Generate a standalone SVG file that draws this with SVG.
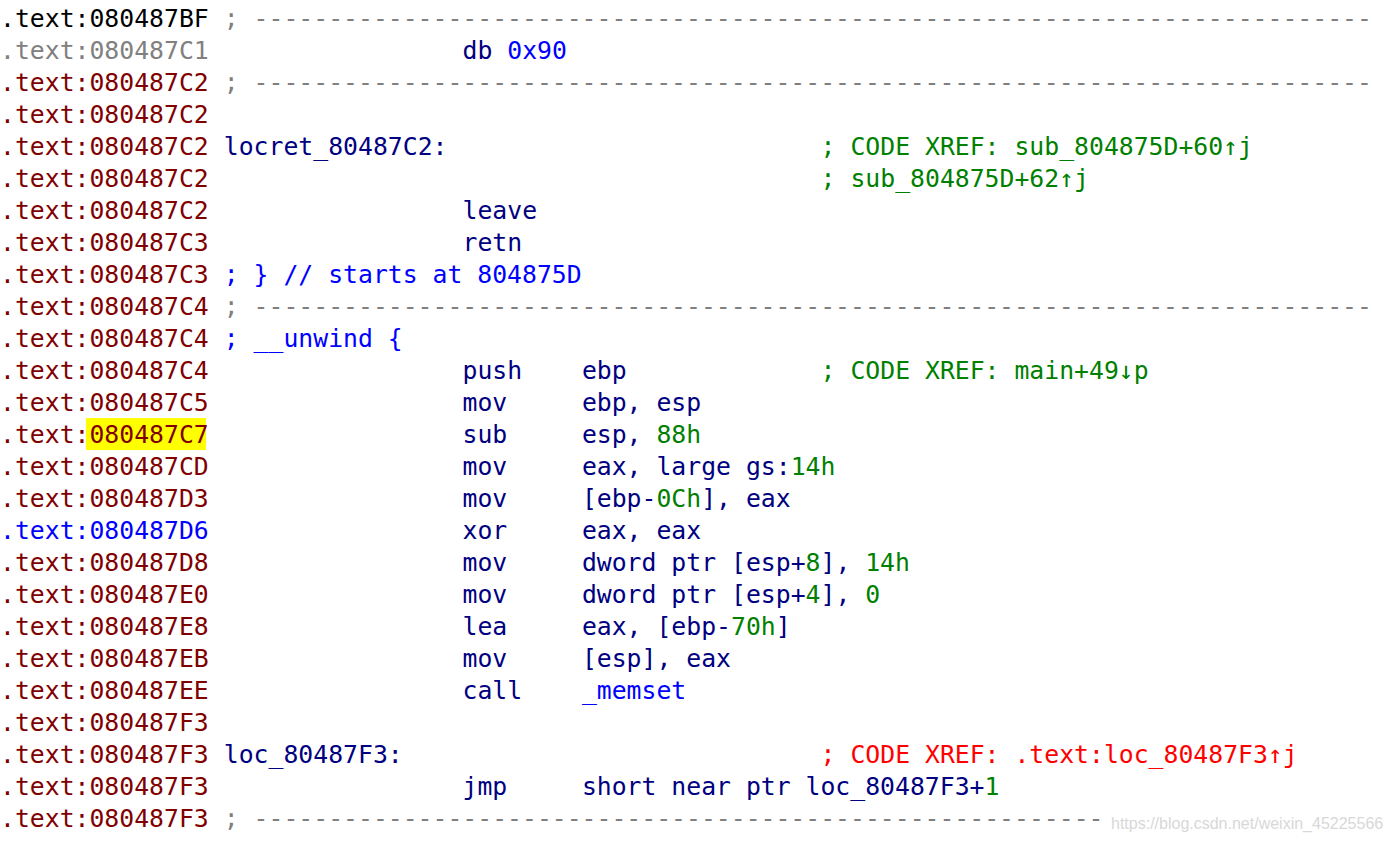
<svg xmlns="http://www.w3.org/2000/svg" width="1392" height="841" viewBox="0 0 1392 841">
<style>
text{font-family:"DejaVu Sans Mono","Liberation Mono",monospace;font-size:24.78px;white-space:pre}
.a{fill:#800000}.k{fill:#000000}.n{fill:#000080}.g{fill:#008000}.b{fill:#0000ff}.gr{fill:#808080}.r{fill:#ff0000}
.wm{font-family:"Liberation Sans",Arial,sans-serif;font-size:16px;fill:#d8d8d8}
</style>
<rect width="1392" height="841" fill="#ffffff"/>
<rect id="highlight" x="86" y="418" width="120" height="32" fill="#ffff00"/>
<g id="listing">
<text y="27"><tspan x="0" class="k">.text:080487BF</tspan><tspan x="223.8" class="gr">;</tspan><tspan x="253.6" class="gr">---------------------------------------------------------------------------</tspan></text>
<text y="59"><tspan x="0" class="gr">.text:080487C1</tspan><tspan x="462.5" class="n">db</tspan><tspan x="507.3" class="b">0x90</tspan></text>
<text y="91"><tspan x="0" class="a">.text:080487C2</tspan><tspan x="223.8" class="gr">;</tspan><tspan x="253.6" class="gr">---------------------------------------------------------------------------</tspan></text>
<text y="123"><tspan x="0" class="a">.text:080487C2</tspan></text>
<text y="155"><tspan x="0" class="a">.text:080487C2</tspan><tspan x="223.8" class="n">locret_80487C2:</tspan><tspan x="820.6" class="g">; CODE XREF: sub_804875D+60↑j</tspan></text>
<text y="187"><tspan x="0" class="a">.text:080487C2</tspan><tspan x="820.6" class="g">; sub_804875D+62↑j</tspan></text>
<text y="219"><tspan x="0" class="a">.text:080487C2</tspan><tspan x="462.5" class="n">leave</tspan></text>
<text y="251"><tspan x="0" class="a">.text:080487C3</tspan><tspan x="462.5" class="n">retn</tspan></text>
<text y="283"><tspan x="0" class="a">.text:080487C3</tspan><tspan x="223.8" class="b">; } // starts at 804875D</tspan></text>
<text y="315"><tspan x="0" class="a">.text:080487C4</tspan><tspan x="223.8" class="gr">;</tspan><tspan x="253.6" class="gr">---------------------------------------------------------------------------</tspan></text>
<text y="347"><tspan x="0" class="a">.text:080487C4</tspan><tspan x="223.8" class="b">; __unwind {</tspan></text>
<text y="379"><tspan x="0" class="a">.text:080487C4</tspan><tspan x="462.5" class="n">push</tspan><tspan x="581.9" class="n">ebp</tspan><tspan x="820.6" class="g">; CODE XREF: main+49↓p</tspan></text>
<text y="411"><tspan x="0" class="a">.text:080487C5</tspan><tspan x="462.5" class="n">mov</tspan><tspan x="581.9" class="n">ebp, esp</tspan></text>
<text y="443"><tspan x="0" class="a">.text:080487C7</tspan><tspan x="462.5" class="n">sub</tspan><tspan x="581.9" class="n">esp, </tspan><tspan class="g">88h</tspan></text>
<text y="475"><tspan x="0" class="a">.text:080487CD</tspan><tspan x="462.5" class="n">mov</tspan><tspan x="581.9" class="n">eax, large gs:</tspan><tspan class="g">14h</tspan></text>
<text y="507"><tspan x="0" class="a">.text:080487D3</tspan><tspan x="462.5" class="n">mov</tspan><tspan x="581.9" class="n">[ebp-</tspan><tspan class="g">0Ch</tspan><tspan class="n">], eax</tspan></text>
<text y="539"><tspan x="0" class="b">.text:080487D6</tspan><tspan x="462.5" class="n">xor</tspan><tspan x="581.9" class="n">eax, eax</tspan></text>
<text y="571"><tspan x="0" class="a">.text:080487D8</tspan><tspan x="462.5" class="n">mov</tspan><tspan x="581.9" class="n">dword ptr [esp+</tspan><tspan class="g">8</tspan><tspan class="n">], </tspan><tspan class="g">14h</tspan></text>
<text y="603"><tspan x="0" class="a">.text:080487E0</tspan><tspan x="462.5" class="n">mov</tspan><tspan x="581.9" class="n">dword ptr [esp+</tspan><tspan class="g">4</tspan><tspan class="n">], </tspan><tspan class="g">0</tspan></text>
<text y="635"><tspan x="0" class="a">.text:080487E8</tspan><tspan x="462.5" class="n">lea</tspan><tspan x="581.9" class="n">eax, [ebp-</tspan><tspan class="g">70h</tspan><tspan class="n">]</tspan></text>
<text y="667"><tspan x="0" class="a">.text:080487EB</tspan><tspan x="462.5" class="n">mov</tspan><tspan x="581.9" class="n">[esp], eax</tspan></text>
<text y="699"><tspan x="0" class="a">.text:080487EE</tspan><tspan x="462.5" class="n">call</tspan><tspan x="581.9" class="b">_memset</tspan></text>
<text y="731"><tspan x="0" class="a">.text:080487F3</tspan></text>
<text y="763"><tspan x="0" class="a">.text:080487F3</tspan><tspan x="223.8" class="n">loc_80487F3:</tspan><tspan x="820.6" class="r">; CODE XREF: .text:loc_80487F3↑j</tspan></text>
<text y="795"><tspan x="0" class="a">.text:080487F3</tspan><tspan x="462.5" class="n">jmp</tspan><tspan x="581.9" class="n">short near ptr loc_80487F3+</tspan><tspan class="g">1</tspan></text>
<text y="827"><tspan x="0" class="a">.text:080487F3</tspan><tspan x="223.8" class="gr">;</tspan><tspan x="253.6" class="gr">---------------------------------------------------------</tspan></text>
</g>
<text class="wm" x="1111" y="829">https://blog.csdn.net/weixin_45225566</text>
</svg>
